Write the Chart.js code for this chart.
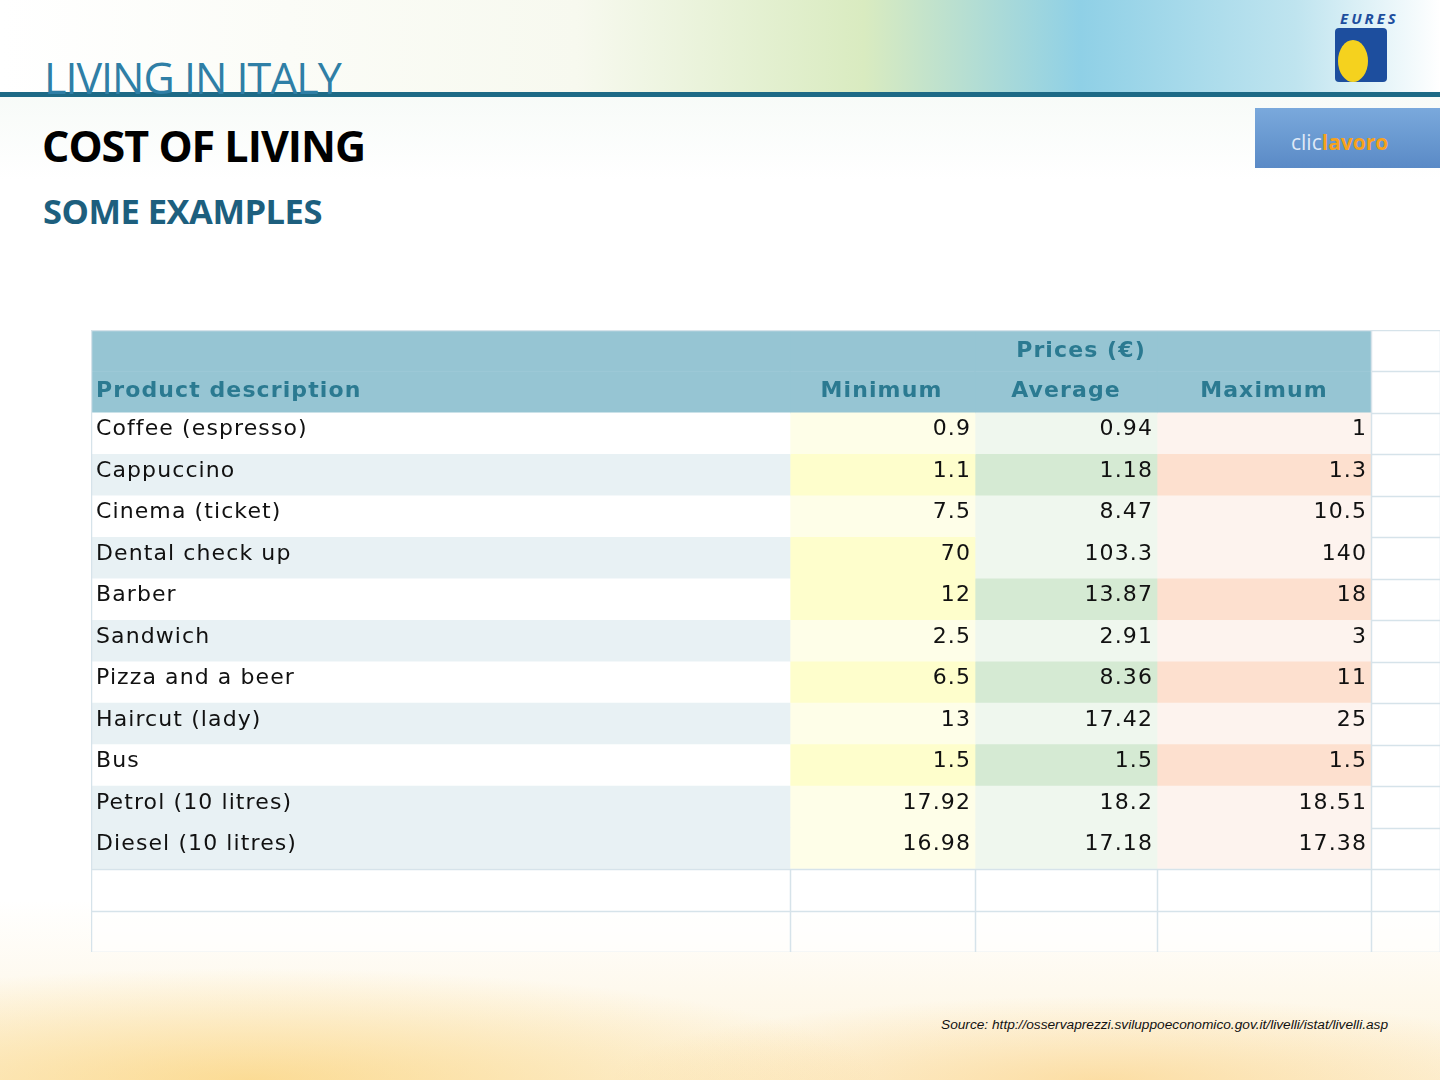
<!DOCTYPE html>
<html><head><meta charset="utf-8">
<script src="https://cdn.jsdelivr.net/npm/chart.js@4"></script>
<style>
html,body{margin:0;width:1440px;height:1080px;overflow:hidden;font-family:"Open Sans",sans-serif}
body{background:
 radial-gradient(ellipse 900px 160px at 250px 1080px, rgba(250,200,90,0.55), rgba(255,255,255,0) 70%),
 radial-gradient(ellipse 700px 120px at 1100px 1080px, rgba(250,190,80,0.4), rgba(255,255,255,0) 70%),
 linear-gradient(180deg, #eef6f0 0px, #ffffff 180px, #ffffff 900px, #fdf3dc 1080px);position:relative}
#top{position:absolute;left:0;top:0;width:1440px;height:95px;background:linear-gradient(90deg,#ffffff 0%,#f7f9ef 40%,#d9ebc0 60%,#8fd0e6 75%,#bfe4ef 90%,#ffffff 100%)}
#rule{position:absolute;left:0;top:92px;width:1440px;height:5px;background:#1d6a86}
.t{position:absolute;white-space:nowrap}
#c{position:absolute;left:91px;top:330px}
</style></head><body>
<div id="top"></div><div id="rule"></div>
<div class="t" style="left:44px;top:48px;font-size:43px;color:#2f7fa6;letter-spacing:-1px">LIVING IN ITALY</div>
<div class="t" style="left:42px;top:116px;font-size:43px;font-weight:bold;color:#000;letter-spacing:-1px">COST OF LIVING</div>
<div class="t" style="left:43px;top:187px;font-size:34.5px;font-weight:bold;color:#1d5f7e;letter-spacing:-0.5px">SOME EXAMPLES</div>
<div class="t" style="left:1340px;top:8px;font-size:15px;font-weight:bold;font-style:italic;color:#1d4e9e;letter-spacing:3px">EURES</div>
<div class="t" style="left:1335px;top:28px;width:52px;height:54px;background:#1d4e9e;border-radius:4px"></div>
<div class="t" style="left:1338px;top:40px;width:30px;height:42px;border-radius:50%;background:#f5d21e"></div>
<div class="t" style="left:1255px;top:108px;width:185px;height:60px;background:linear-gradient(180deg,#7aa9dc,#5a8ac6)"></div>
<div class="t" style="left:1291px;top:128px;font-size:21px;color:#dfe9f7">clic<b style="color:#f7a21b">lavoro</b></div>
<div class="t" style="left:941px;top:1017px;font-size:13.7px;font-style:italic;color:#111;font-family:'Liberation Sans'">Source: http://osservaprezzi.sviluppoeconomico.gov.it/livelli/istat/livelli.asp</div>
<canvas id="c" width="1349" height="622"></canvas>
<script>
const products=["Coffee (espresso)","Cappuccino","Cinema (ticket)","Dental check up","Barber","Sandwich","Pizza and a beer","Haircut (lady)","Bus","Petrol (10 litres)","Diesel (10 litres)"];
const minimum=["0.9","1.1","7.5","70","12","2.5","6.5","13","1.5","17.92","16.98"];
const average=["0.94","1.18","8.47","103.3","13.87","2.91","8.36","17.42","1.5","18.2","17.18"];
const maximum=["1","1.3","10.5","140","18","3","11","25","1.5","18.51","17.38"];
const headerTop="Prices (€)";
const headers=["Product description","Minimum","Average","Maximum"];
const productShade=[0,1,0,1,0,1,0,1,0,1,1];
const minShade=[0,1,0,1,1,0,1,0,1,0,0];
const avgShade=[0,1,0,0,1,0,1,0,1,0,0];
const maxShade=[0,1,0,0,1,0,1,0,1,0,0];

const rows=["h1","h2",...products,"e1","e2"];
const edges=[0,699,884,1066,1280,1349];
const nData=products.length;
function col(i){return rows.map(()=>[edges[i],edges[i+1]]);}
function colors(fn){return rows.map((r,k)=>k<2?fn(-1):(k<2+nData?fn(k-2):'rgba(255,255,255,0.6)'));}
const ds=[
 {data:col(0),backgroundColor:colors(j=>j<0?'#96c5d3':(productShade[j]?'#e8f1f4':'#ffffff'))},
 {data:col(1),backgroundColor:colors(j=>j<0?'#96c5d3':(minShade[j]?'#fefecc':'#fefee8'))},
 {data:col(2),backgroundColor:colors(j=>j<0?'#96c5d3':(avgShade[j]?'#d5ead3':'#eff7ee'))},
 {data:col(3),backgroundColor:colors(j=>j<0?'#96c5d3':(maxShade[j]?'#fde0cf':'#fdf3ee'))},
 {data:col(4),backgroundColor:rows.map(()=> 'rgba(255,255,255,0.5)')}
];
ds.forEach(d=>{d.barPercentage=1;d.categoryPercentage=1;d.grouped=false;d.borderWidth=0;});
const textPlugin={id:'tt',afterDatasetsDraw(ch){
 const c=ch.ctx,x=ch.scales.x,y=ch.scales.y;
 const band=y.getPixelForValue(1)-y.getPixelForValue(0);
 c.save();
 c.strokeStyle='#d6e3ea';c.lineWidth=1.5;
 for(let k=0;k<=rows.length;k++){const py=Math.round(y.getPixelForValue(0)-band/2+k*band)+0.5;
  c.beginPath();c.moveTo(k<2+nData&&k>0?x.getPixelForValue(edges[4]):0,py);c.lineTo(x.getPixelForValue(edges[5]),py);c.stroke();}
 for(let i=0;i<edges.length;i++){const px=Math.round(x.getPixelForValue(edges[i]))+0.5;
  const top=(i===0||i===5)?0:y.getPixelForValue(2+nData)-band/2;
  c.beginPath();c.moveTo(px,i===4||i===5?0:top);c.lineTo(px,y.getPixelForValue(rows.length-1)+band/2);c.stroke();}
 c.textBaseline='middle';
 c.letterSpacing='1.1px';
 c.font='bold 22px "DejaVu Sans"';c.fillStyle='#2b7a91';
 c.textAlign='center';
 c.fillText(headerTop,x.getPixelForValue((edges[2]+edges[3])/2)+15,y.getPixelForValue(0)+1);
 c.textAlign='left';c.fillText(headers[0],x.getPixelForValue(5),y.getPixelForValue(1)-1);
 c.textAlign='center';
 for(let i=1;i<4;i++)c.fillText(headers[i],x.getPixelForValue((edges[i]+edges[i+1])/2)+[0,-1,0,0][i],y.getPixelForValue(1)-1);
 c.font='22px "DejaVu Sans"';c.fillStyle='#111';
 const cols=[minimum,average,maximum];
 for(let j=0;j<nData;j++){const py=y.getPixelForValue(j+2)-4;
  c.textAlign='left';c.fillText(products[j],x.getPixelForValue(5),py);
  c.textAlign='right';
  for(let i=0;i<3;i++)c.fillText(cols[i][j],x.getPixelForValue(edges[i+2])-4,py);}
 c.restore();}};
new Chart(document.getElementById('c'),{type:'bar',data:{labels:rows,datasets:ds},
 options:{indexAxis:'y',responsive:false,animation:false,events:[],
  layout:{padding:0},
  plugins:{legend:{display:false},tooltip:{enabled:false}},
  scales:{x:{type:'linear',min:0,max:1349,display:false},y:{type:'category',display:false,offset:true}}},
 plugins:[textPlugin]});
</script></body></html>
